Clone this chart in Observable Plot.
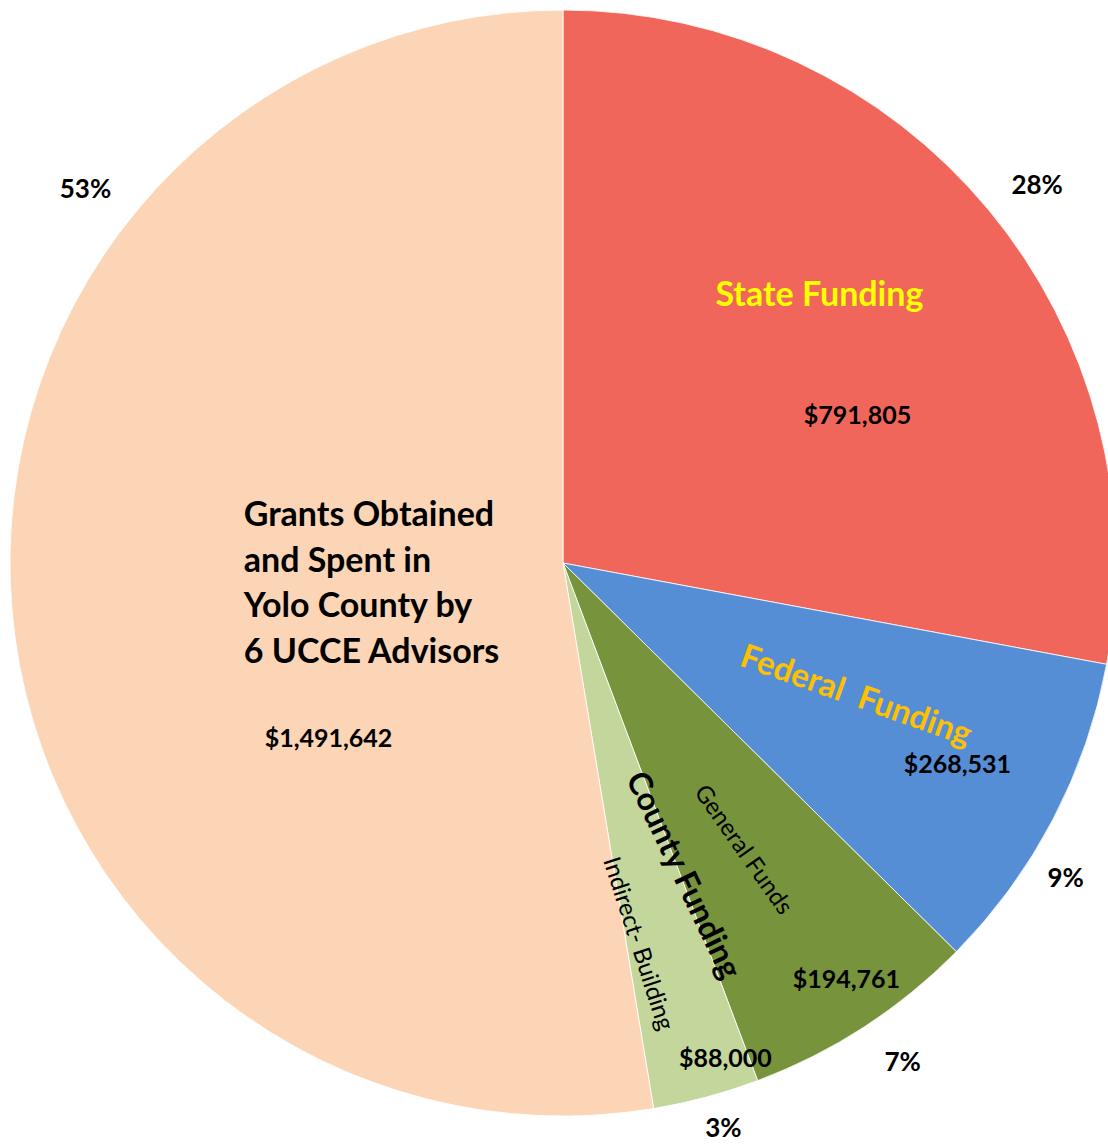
<!DOCTYPE html>
<html><head><meta charset="utf-8">
<script src="https://cdn.jsdelivr.net/npm/d3@7"></script>
<script src="https://cdn.jsdelivr.net/npm/@observablehq/plot@0.6"></script>
<style>body{margin:0;background:#fff}</style>
</head><body><div id="chart"></div>
<script>
// ---- data ----
const categories = ["State Funding", "Federal Funding", "General Funds", "Indirect- Building", "Grants Obtained and Spent in Yolo County by 6 UCCE Advisors"];
const values = [791805, 268531, 194761, 88000, 1491642];
const groupLabel = "County Funding";
const grantsLabelLines = ["Grants Obtained", "and Spent in", "Yolo County by", "6 UCCE Advisors"];
const sliceColors = ["#F0665A", "#558ED5", "#77933C", "#C3D69B", "#FBD5B5"];

// ---- layout (angle in degrees clockwise from 12 o'clock, radius as fraction of pie radius) ----
const nameLayout = [
  {a: 43.2, r: 0.676, size: 34, weight: "bold", fill: "#FFFF00", rot: 0},
  {a: 113.7, r: 0.58, size: 33, weight: "bold", fill: "#FFC000", rot: 19.5},
  {a: 147.4, r: 0.611, size: 24, weight: "normal", fill: "#000", rot: 55},
  {a: 168.5, r: 0.70, size: 24, weight: "normal", fill: "#000", rot: 72},
  {a: 267.1, r: 0.579, size: 34, weight: "bold", fill: "#000", rot: 0, anchor: "start"}
];
const valueLayout = [
  {a: 63.3, r: 0.595}, {a: 117.1, r: 0.80}, {a: 145.8, r: 0.91}, {a: 161.9, r: 0.942}, {a: 233.3, r: 0.53}
];
const pctLayout = [
  {a: 51.4, r: 1.096}, {a: 122.1, r: 1.072}, {a: 145.8, r: 1.091}, {a: 164.2, r: 1.062}, {a: 308, r: 1.097}
];
const groupLayout = {a: 159, r: 0.604, size: 32, rot: 64.5};

const total = d3.sum(values);
const rad = d => d * Math.PI / 180;
const px = (l) => l.r * Math.sin(rad(l.a));
const py = (l) => l.r * Math.cos(rad(l.a));

const rows = categories.map((c, i) => ({name: c, value: values[i], color: sliceColors[i]}));
const fmt = d3.format("$,");

const pieMark = (index, scales, vals, dims) => {
  const cx = scales.x(0), cy = scales.y(0), r = scales.x(1) - scales.x(0);
  const g = d3.create("svg:g").attr("transform", `translate(${cx},${cy})`);
  const arcs = d3.pie().sort(null).value(d => d.value)(rows);
  g.selectAll("path").data(arcs).join("path")
    .attr("d", d3.arc().innerRadius(0).outerRadius(r))
    .attr("fill", d => d.data.color)
    .attr("stroke", "#fff").attr("stroke-width", 0.8);
  return g.node();
};

const textMarks = [];
const font = "Lato, 'Open Sans', sans-serif";
rows.forEach((d, i) => {
  const L = nameLayout[i];
  const txt = i === 4 ? grantsLabelLines.join("\n") : (i === 1 ? "Federal  Funding" : d.name);
  textMarks.push(Plot.text([d], {x: () => px(L), y: () => py(L), text: () => txt,
    fontSize: L.size, fontWeight: L.weight, fill: L.fill, rotate: L.rot,
    textAnchor: L.anchor || "middle", lineHeight: 1.34, fontFamily: font}));
  const V = valueLayout[i];
  textMarks.push(Plot.text([d], {x: () => px(V), y: () => py(V), text: dd => fmt(dd.value),
    fontSize: 25, fontWeight: "bold", fill: "#000", fontFamily: font}));
  const P = pctLayout[i];
  textMarks.push(Plot.text([d], {x: () => px(P), y: () => py(P), text: dd => Math.round(dd.value / total * 100) + "%",
    fontSize: 26, fontWeight: "bold", fill: "#000", fontFamily: font}));
});
textMarks.push(Plot.text([groupLabel], {x: () => px(groupLayout), y: () => py(groupLayout), text: d => d,
  fontSize: groupLayout.size, fontWeight: "bold", fill: "#000", rotate: groupLayout.rot, fontFamily: font}));

const W = 1108, H = 1144, R = 553, CX = 563, CY = 563;
const chart = Plot.plot({
  width: W, height: H, margin: 0,
  x: {domain: [-CX / R, (W - CX) / R], axis: null},
  y: {domain: [-(H - CY) / R, CY / R], axis: null},
  style: {fontFamily: font, background: "#fff"},
  marks: [pieMark, ...textMarks]
});
document.getElementById("chart").appendChild(chart);
</script>
</body></html>
